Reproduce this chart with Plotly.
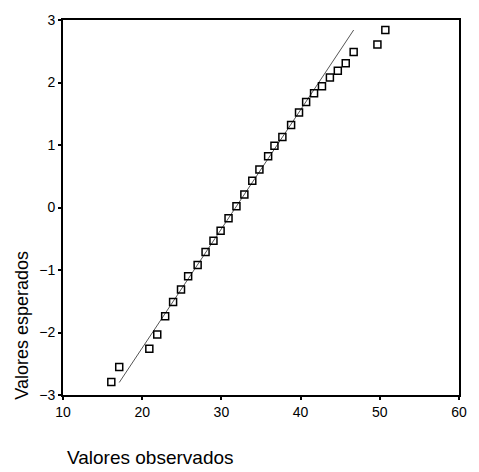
import plotly.graph_objects as go

observed = [16.1, 17.1, 20.9, 21.9, 22.9, 23.9, 24.9, 25.8, 27.0, 28.0, 29.0, 29.9,
            30.9, 31.9, 32.9, 33.9, 34.8, 35.9, 36.7, 37.7, 38.8, 39.8, 40.7, 41.7,
            42.7, 43.7, 44.7, 45.7, 46.7, 49.7, 50.7]
expected = [-2.79, -2.55, -2.26, -2.03, -1.74, -1.51, -1.31, -1.10, -0.92, -0.71, -0.53, -0.37,
            -0.17, 0.02, 0.21, 0.43, 0.61, 0.82, 0.99, 1.13, 1.32, 1.52, 1.69, 1.83,
            1.94, 2.08, 2.19, 2.31, 2.49, 2.61, 2.84]
line_x = [17.1, 46.7]
line_y = [-2.80, 2.84]
x_ticks = [10, 20, 30, 40, 50, 60]
y_ticks = [-3, -2, -1, 0, 1, 2, 3]

fig = go.Figure()
fig.add_trace(go.Scatter(x=line_x, y=line_y, mode="lines",
                         line=dict(color="#555555", width=1), showlegend=False))
fig.add_trace(go.Scatter(x=observed, y=expected, mode="markers",
                         marker=dict(symbol="square-open", size=7, color="black",
                                     line=dict(width=1.5, color="black")),
                         showlegend=False))

L, R, T, B = 63, 14, 14, 77
W, H = 479, 472
pw, ph = W - L - R, H - T - B

axis_common = dict(showgrid=False, zeroline=False, showline=True, linecolor="black",
                   linewidth=2, mirror=True, ticks="outside", ticklen=3, tickwidth=2,
                   tickcolor="black", tickfont=dict(family="Liberation Sans, Arial", size=14,
                                                     color="black"))
fig.update_xaxes(range=[10, 60], tickvals=x_ticks, **axis_common)
fig.update_yaxes(range=[-3, 3], tickvals=y_ticks, **axis_common)

fig.update_layout(
    width=W, height=H,
    margin=dict(l=L, r=R, t=T, b=B),
    paper_bgcolor="white", plot_bgcolor="white",
    annotations=[
        dict(text="Valores observados", xref="paper", yref="paper",
             x=(152 - L) / pw, y=(H - B - 458) / ph, xanchor="center", yanchor="middle",
             showarrow=False, font=dict(family="Liberation Sans, Arial", size=19, color="black")),
        dict(text="Valores esperados", xref="paper", yref="paper", textangle=-90,
             x=(22 - L) / pw, y=(H - B - 324) / ph, xanchor="center", yanchor="middle",
             showarrow=False, font=dict(family="Liberation Sans, Arial", size=18, color="black")),
    ],
)

fig.write_html("out.html")
